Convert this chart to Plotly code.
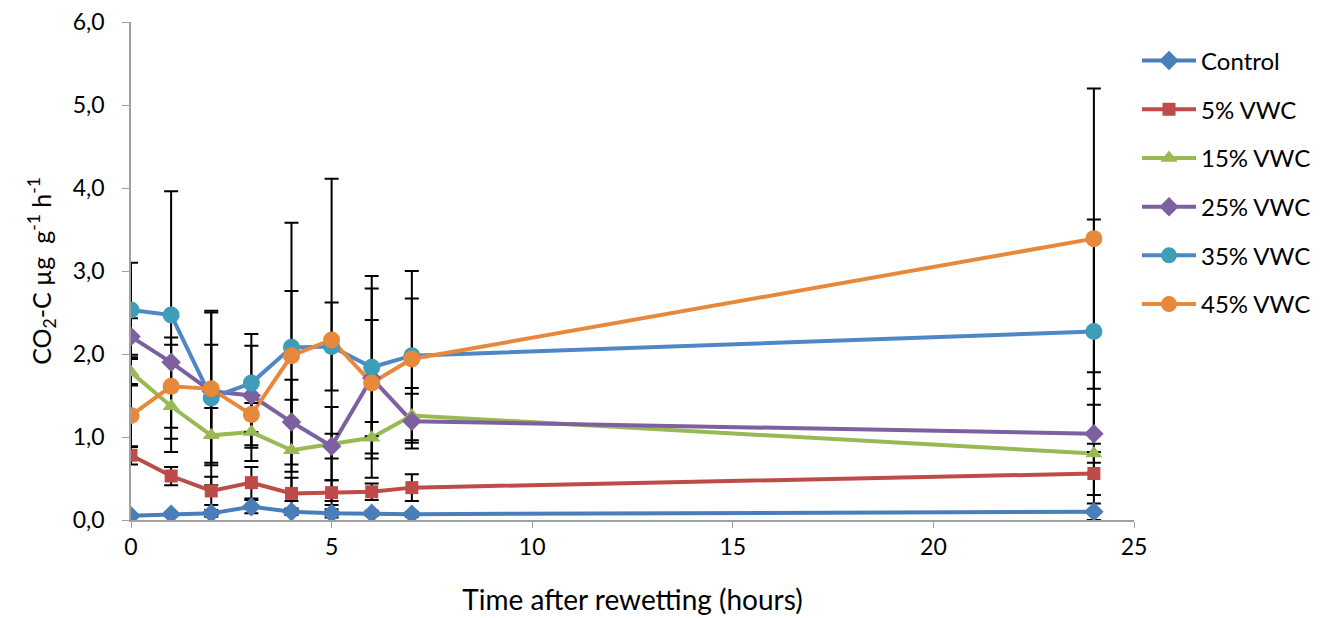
import plotly.graph_objects as go

hours = [0, 1, 2, 3, 4, 5, 6, 7, 24]
series_names = ["Control", "5% VWC", "15% VWC", "25% VWC", "35% VWC", "45% VWC"]

control = [0.05, 0.07, 0.08, 0.16, 0.10, 0.08, 0.08, 0.07, 0.10]
vwc5 = [0.78, 0.53, 0.35, 0.45, 0.32, 0.33, 0.34, 0.39, 0.56]
vwc15 = [1.78, 1.37, 1.02, 1.06, 0.84, 0.92, 0.99, 1.26, 0.80]
vwc25 = [2.21, 1.90, 1.55, 1.50, 1.18, 0.89, 1.71, 1.19, 1.04]
vwc35 = [2.53, 2.47, 1.47, 1.65, 2.08, 2.09, 1.84, 1.98, 2.27]
vwc45 = [1.26, 1.61, 1.58, 1.27, 1.98, 2.17, 1.65, 1.94, 3.39]

err_control = [0.02, 0.02, 0.04, 0.08, 0.04, 0.05, 0.03, 0.03, 0.10]
err_vwc5 = [0.11, 0.11, 0.17, 0.19, 0.19, 0.15, 0.10, 0.16, 0.26]
err_vwc15 = [0.16, 0.55, 0.33, 0.35, 0.61, 0.44, 0.19, 0.33, 0.98]
err_vwc25 = [0.22, 0.30, 0.56, 0.60, 0.51, 0.15, 0.70, 0.33, 0.35]
err_vwc35 = [0.57, 1.49, 1.05, 0.59, 1.50, 0.53, 1.10, 1.02, 1.35]
err_vwc45 = [0.38, 0.50, 0.92, 0.40, 0.78, 1.94, 1.14, 0.73, 1.81]

values = [control, vwc5, vwc15, vwc25, vwc35, vwc45]
errors = [err_control, err_vwc5, err_vwc15, err_vwc25, err_vwc35, err_vwc45]

line_colors = ["#4A7EBB", "#BE4B48", "#98B954", "#7D60A0", "#4F86C6", "#E8883A"]
marker_colors = ["#4A7EBB", "#BE4B48", "#98B954", "#7D60A0", "#3E9DB8", "#E8883A"]
symbols = ["diamond", "square", "triangle-up", "diamond", "circle", "circle"]
sizes = [15, 13, 15, 15, 17, 17]

fig = go.Figure()

# lines
for name, v, lc in zip(series_names, values, line_colors):
    fig.add_trace(go.Scatter(x=hours, y=v, mode="lines", line=dict(color=lc, width=4),
                             showlegend=False, hoverinfo="skip"))

# error bars
for v, e in zip(values, errors):
    fig.add_trace(go.Scatter(x=hours, y=v, mode="markers", marker=dict(size=1, opacity=0),
                             error_y=dict(type="data", array=e, visible=True, color="black",
                                          thickness=2, width=7),
                             showlegend=False, hoverinfo="skip"))

# markers
for name, v, mc, s, sz in zip(series_names, values, marker_colors, symbols, sizes):
    fig.add_trace(go.Scatter(x=hours, y=v, mode="markers",
                             marker=dict(color=mc, symbol=s, size=sz, line=dict(width=0)),
                             showlegend=False, name=name))

# legend entries
for i, (name, lc, mc, s, sz) in enumerate(zip(series_names, line_colors, marker_colors, symbols, sizes)):
    fig.add_trace(go.Scatter(x=[None], y=[None], mode="lines+markers", name=name,
                             line=dict(color=lc, width=4),
                             marker=dict(color=mc, symbol=s, size=sz, line=dict(width=0)),
                             legendgroup=f"g{i}"))

fig.update_layout(
    width=1313, height=610,
    margin=dict(l=123, r=187, t=14, b=98, autoexpand=False),
    paper_bgcolor="white", plot_bgcolor="white",
    separators=",.",
    font=dict(family="Lato, Open Sans, sans-serif", color="black", size=22),
    legend=dict(x=1.003, y=0.967, xanchor="left", yanchor="top",
                font=dict(size=24), tracegroupgap=14.5, itemwidth=54,
                bgcolor="rgba(0,0,0,0)"),
    xaxis=dict(range=[0, 25], tickvals=[0, 5, 10, 15, 20, 25], showline=True,
               linecolor="#A0A0A0", linewidth=1.5, ticks="outside", tickcolor="#A0A0A0",
               ticklen=6, showgrid=False, zeroline=False, automargin=False,
               ticklabeloverflow="allow",
               title=dict(text="Time after rewetting (hours)", font=dict(size=28), standoff=31),
               tickfont=dict(size=23)),
    yaxis=dict(range=[0, 6], tickvals=[0, 1, 2, 3, 4, 5, 6], tickformat=".1f", showline=True,
               linecolor="#A0A0A0", linewidth=1.5, ticks="outside", tickcolor="#A0A0A0",
               ticklen=7, showgrid=False, zeroline=False, ticklabelstandoff=13,
               automargin=False, ticklabeloverflow="allow",
               title=dict(text="CO<sub>2</sub>-C µg  g<sup>-1</sup> h<sup>-1</sup>",
                          font=dict(size=25), standoff=14),
               tickfont=dict(size=23)),
)

fig.write_html("out.html")
